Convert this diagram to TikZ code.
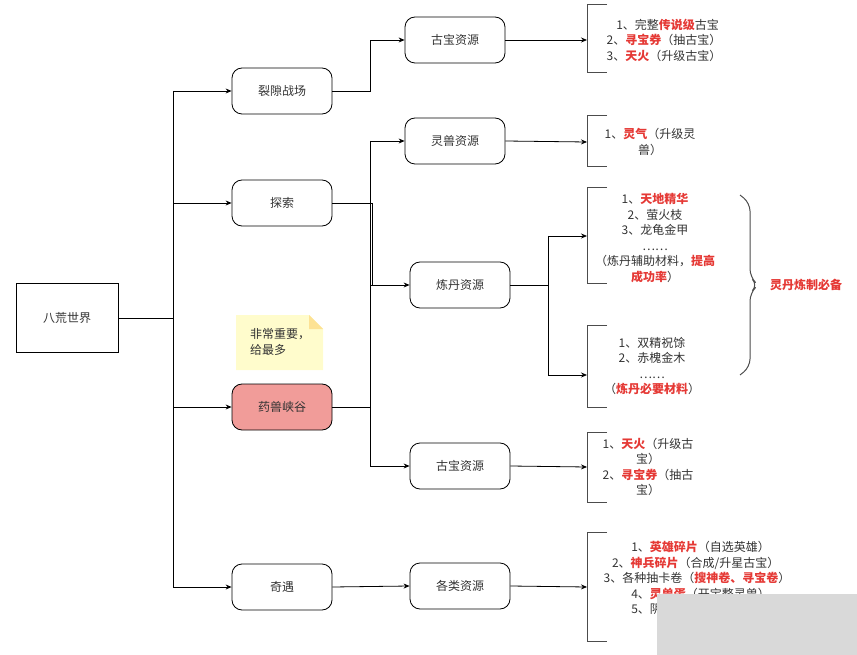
\documentclass[tikz,border=0pt]{standalone}
\usepackage{fontspec}
\setmainfont{Noto Sans CJK SC}
\usetikzlibrary{arrows.meta,decorations.pathreplacing}
\definecolor{rd}{HTML}{E53935}
\definecolor{tx}{HTML}{333333}
\newcommand{\R}[1]{\textcolor{rd}{\bfseries #1}}
\begin{document}
\begin{tikzpicture}[x=1pt,y=-1pt,font=\fontsize{12}{15.5}\selectfont,text=tx,
  rbox/.style={draw=black,rounded corners=10pt,minimum width=100pt,minimum height=46pt,line width=0.8pt},
  sbox/.style={draw=black,minimum width=102pt,minimum height=69pt,line width=0.8pt},
  ln/.style={line width=0.8pt,draw=black},
  ar/.style={ln,-{Stealth[length=6pt,width=5pt]}},
  brk/.style={line width=1pt,draw=black!70},
  lst/.style={align=center,text=tx,inner sep=0pt}]
\useasboundingbox (0,0) rectangle (857,655);
\node[sbox] (w) at (67,318) {八荒世界};
\node[rbox] (a) at (282,91) {裂隙战场};
\node[rbox] (b) at (282,203) {探索};
\node[rbox,fill={rgb,255:red,241;green,156;blue,153}] (c) at (282,407) {药兽峡谷};
\node[rbox] (d) at (282,587) {奇遇};
\node[rbox] (r1) at (455,40) {古宝资源};
\node[rbox] (r2) at (455,141) {灵兽资源};
\node[rbox] (r3) at (460,285) {炼丹资源};
\node[rbox] (r4) at (460,466) {古宝资源};
\node[rbox] (r5) at (460,586) {各类资源};
% note
\fill[yellow!20!white,draw=none] (236,315) -- (309,315) -- (323,329) -- (323,370) -- (236,370) -- cycle;
\fill[yellow!50!orange!40!white] (309,315) -- (323,329) -- (309,329) -- cycle;
\node[lst,align=left] (nt) at (280,342) {非常重要，\\给最多};
% trunk
\coordinate (t) at (173,318);
\draw[ln] (w.east) -- (t);
\draw[ar] (173,91) -- (a.west); \draw[ln] (173,91) -- (173,587);
\draw[ar] (173,203) -- (b.west);
\draw[ar] (173,407) -- (c.west);
\draw[ar] (173,587) -- (d.west);
\draw[ar] (a.east) -- (370,91) -- (370,40) -- (r1.west);
\draw[ln] (b.east) -- (372,203) -- (372,285);
\draw[ln] (c.east) -- (370,407);
\draw[ln] (370,141) -- (370,466);
\draw[ar] (370,141) -- (r2.west);
\draw[ar] (370,285) -- (r3.west);
\draw[ar] (370,466) -- (r4.west);
\draw[ar] (d.east) -- (r5.west);
% brackets
\newcommand{\brk}[2]{\draw[brk] (607,#1) -- (587,#1) -- (587,#2) -- (607,#2);}
\brk{5}{73}\brk{116}{167}\brk{188}{283}\brk{325}{407}\brk{432}{502}\brk{532}{641}
\coordinate (k1) at (587,40);\coordinate (k2) at (587,142);\coordinate (k3) at (587,236);
\coordinate (k4) at (587,375);\coordinate (k5) at (587,467);\coordinate (k6) at (587,587);
\draw[ar] (r1.east) -- (k1);
\draw[ar] (r2.east) -- (k2);
\draw[ln] (r3.east) -- (548,285); \draw[ln] (548,236) -- (548,375);
\draw[ar] (548,236) -- (k3);
\draw[ar] (548,375) -- (k4);
\draw[ar] (r4.east) -- (k5);
\draw[ar] (r5.east) -- (k6);
\node[lst] (l1) at (664,40) {\hspace{0.6em}1、完整\R{传说级}古宝\\2、\R{寻宝券}（抽古宝）\\3、\R{天火}（升级古宝）};
\node[lst] (l2) at (650,142) {1、\R{灵气}（升级灵\\兽）};
\node[lst] (l3) at (655,238) {1、\R{天地精华}\\2、萤火枝\\3、龙龟金甲\\……\\（炼丹辅助材料，\R{提高}\\\R{成功率}）};
\node[lst] (l4) at (652,366) {1、双精祝馀\\2、赤槐金木\\……\\（\R{炼丹必要材料}）};
\node[lst] (l5) at (648,467) {1、\R{天火}（升级古\\宝）\\2、\R{寻宝券}（抽古\\宝）};
\node[lst,align=left] (l6) at (697,578) {\hspace{2.3em}1、\R{英雄碎片}（自选英雄）\\\hspace{0.7em}2、\R{神兵碎片}（合成/升星古宝）\\3、各种抽卡卷（\R{搜神卷、寻宝卷}）\\\hspace{2.3em}4、\R{灵兽蛋}（开宝整灵兽）\\\hspace{2.3em}5、阴};
\fill[black!15] (657,594) rectangle (857,655);
\draw[brk,rounded corners=8pt] (740,195) -- (750,203) -- (750,277) -- (758,285) -- (750,293) -- (750,367) -- (740,375);
\node[text=rd,font=\fontsize{12}{14}\selectfont\bfseries] (lb) at (806,285) {灵丹炼制必备};
\end{tikzpicture}
\end{document}
